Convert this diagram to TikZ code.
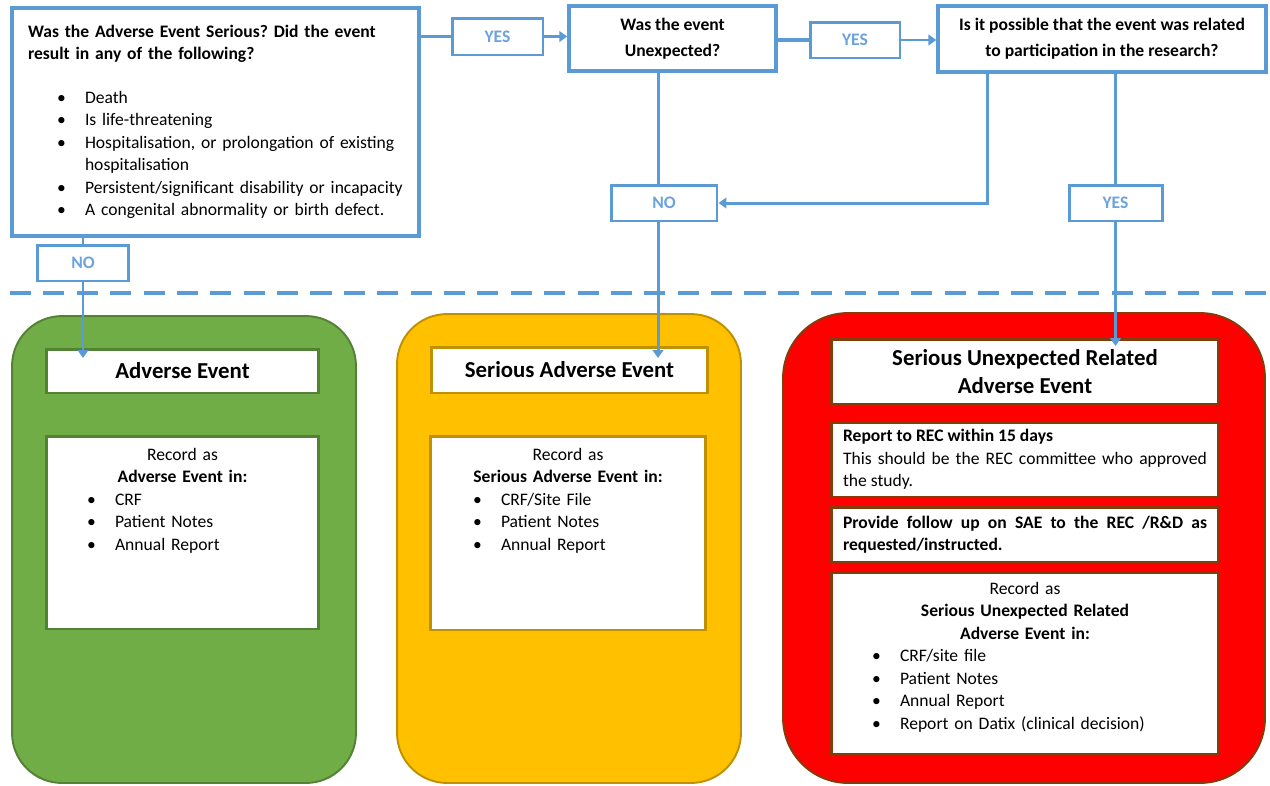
\documentclass[tikz,border=0pt]{standalone}
\usepackage{fontspec}
\setmainfont{Carlito}
\frenchspacing
\usetikzlibrary{arrows.meta}
\definecolor{flowblue}{RGB}{91,155,213}
\definecolor{ansblue}{RGB}{108,163,220}
\definecolor{aegreen}{RGB}{112,173,71}
\definecolor{aegreenline}{RGB}{84,130,53}
\definecolor{saeyellow}{RGB}{255,192,0}
\definecolor{saeyellowline}{RGB}{191,144,0}
\definecolor{susarred}{RGB}{255,0,0}
\definecolor{susarline}{RGB}{132,60,12}
\newcommand{\bodyfont}{\fontsize{10pt}{12.8pt}\selectfont}
\newcommand{\headfont}{\fontsize{13pt}{16pt}\selectfont\bfseries}
\newcommand{\bitem}[2][0.58cm]{\hspace*{#1}\makebox[0.56cm][l]{\textbullet}\mbox{#2}}
\tikzset{
  question/.style={draw=flowblue, line width=2pt, fill=white, font=\bodyfont\bfseries, align=center},
  answer/.style={draw=flowblue, line width=1.7pt, fill=white, text=ansblue, font=\bodyfont\bfseries, minimum height=0.72cm},
  link/.style={draw=flowblue, line width=1.7pt},
  flow/.style={link, -{Triangle[length=4.5pt,width=6pt]}},
  panel/.style={line width=1.1pt, rounded corners=1cm, minimum width=6.88cm},
  inbox/.style={fill=white, line width=1.7pt, inner sep=0pt},
}
\begin{document}
\begin{tikzpicture}[x=0.02cm, y=-0.02cm, font=\bodyfont]
\useasboundingbox (0,0) rectangle (1270,785);
\node[question, text width=7.5cm, align=left, minimum width=8.14cm, minimum height=4.56cm, inner xsep=0.32cm] (Q_1) at (215.5,122) {\mbox{Was the Adverse Event Serious? Did the event}\\ result in any of the following?\\[12pt]
  \mdseries\bitem{Death}\\ \bitem{Is life-threatening}\\ \bitem{Hospitalisation, or prolongation of existing}\\ \hspace*{1.14cm}hospitalisation\\ \bitem{Persistent/significant disability or incapacity}\\ \bitem{A congenital abnormality or birth defect.}};
\node[question, minimum width=4.14cm, minimum height=1.3cm] (Q_2) at (672.5,38.5) {Was the event\\[2pt]Unexpected?};
\node[question, minimum width=6.56cm, minimum height=1.32cm] (Q_3) at (1102,39) {Is it possible that the event was related\\[2pt]to participation in the research?};
\node[answer, minimum width=1.82cm, minimum height=0.74cm] (Y_1) at (497.5,36.5) {YES};
\node[answer, minimum width=1.8cm] (Y_2) at (855,40) {YES};
\node[answer, minimum width=1.86cm] (Y_3) at (1115.5,203) {YES};
\node[answer, minimum width=1.84cm] (N_1) at (83,263) {NO};
\node[answer, minimum width=2.12cm] (N_2) at (664,203) {NO};
\node[panel, fill=aegreen, draw=aegreenline, minimum height=9.34cm] (B_1) at (184,549.5) {};
\node[panel, fill=saeyellow, draw=saeyellowline, minimum height=9.38cm] (B_2) at (569,548.5) {};
\node[panel, fill=susarred, draw=susarline, minimum width=9.64cm, minimum height=9.4cm, rounded corners=1.3cm] (B_3) at (1024,548) {};
\node[inbox, draw=aegreenline, font=\headfont, minimum width=5.46cm, minimum height=0.88cm] (T_1) at (182.5,371) {Adverse Event};
\node[inbox, draw=saeyellowline, font=\headfont, minimum width=5.54cm, minimum height=0.92cm] (T_2) at (569.5,370) {Serious Adverse Event};
\node[inbox, draw=susarline, font=\headfont, align=center, minimum width=7.76cm, minimum height=1.3cm] (T_3) at (1025,371.5) {Serious Unexpected Related\\Adverse Event};
\node[inbox, draw=aegreenline, minimum width=5.46cm, minimum height=3.86cm] (R_1) at (182.5,532.5) {};
\node[anchor=north, text width=5.46cm, inner sep=0pt, align=left] (L_1) at ([yshift=-0.26cm]R_1.north) {\makebox[\hsize]{Record as}\\ \makebox[\hsize]{\bfseries Adverse Event in:}\\ \bitem[0.82cm]{CRF}\\ \bitem[0.82cm]{Patient Notes}\\ \bitem[0.82cm]{Annual Report}};
\node[inbox, draw=saeyellowline, minimum width=5.52cm, minimum height=3.88cm] (R_2) at (568,533) {};
\node[anchor=north, text width=5.52cm, inner sep=0pt, align=left] (L_2) at ([yshift=-0.26cm]R_2.north) {\makebox[\hsize]{Record as}\\ \makebox[\hsize]{\bfseries Serious Adverse Event in:}\\ \bitem[0.86cm]{CRF/Site File}\\ \bitem[0.86cm]{Patient Notes}\\ \bitem[0.86cm]{Annual Report}};
\node[inbox, draw=susarline, minimum width=7.76cm, minimum height=1.5cm, text width=7.28cm, align=justify] (R_3) at (1025,459.5) {\textbf{Report to REC within 15 days}\\ This should be the REC committee who approved \linebreak the study.};
\node[inbox, draw=susarline, minimum width=7.76cm, minimum height=1.1cm, text width=7.28cm, align=justify, font=\bodyfont\bfseries] (R_4) at (1025,534.5) {Provide follow up on SAE to the REC /R\&D as \linebreak requested/instructed.};
\node[inbox, draw=susarline, minimum width=7.76cm, minimum height=3.64cm] (R_5) at (1025,663) {};
\node[anchor=north, text width=7.76cm, inner sep=0pt, align=left] (L_5) at ([yshift=-0.22cm]R_5.north) {\makebox[\hsize]{Record as}\\ \makebox[\hsize]{\bfseries Serious Unexpected Related}\\ \makebox[\hsize]{\bfseries Adverse Event in:}\\ \bitem[0.82cm]{CRF/site file}\\ \bitem[0.82cm]{Patient Notes}\\ \bitem[0.82cm]{Annual Report}\\ \bitem[0.82cm]{Report on Datix (clinical decision)}};
\coordinate (X_1) at (83,358);
\coordinate (X_2) at (658,358);
\coordinate (X_3) at (987,0);
\coordinate (X_4) at (1115.5,346);
\draw[flowblue, line width=2.8pt, dash pattern=on 12pt off 7pt] (10,293) -- (1266,293);
\draw[link] (Q_1.east |- Y_1.west) -- (Y_1.west);
\draw[flow] (Y_1.east) -- (Y_1.east -| Q_2.west);
\draw[link, line width=2.8pt] (Q_2.east |- Y_2.west) -- (Y_2.west);
\draw[flow] (Y_2.east) -- (Y_2.east -| Q_3.west);
\draw[link] (Q_1.south -| N_1.north) -- (N_1.north);
\draw[flow] (N_1.south) -- (X_1);
\draw[link] (Q_2.south -| X_2) -- (N_2.north -| X_2);
\draw[flow] (N_2.south -| X_2) -- (X_2);
\draw[flow] (Q_3.south -| X_3) |- (N_2.east);
\draw[link] (Q_3.south -| Y_3.north) -- (Y_3.north);
\draw[flow] (Y_3.south) -- (X_4);
\end{tikzpicture}
\end{document}
